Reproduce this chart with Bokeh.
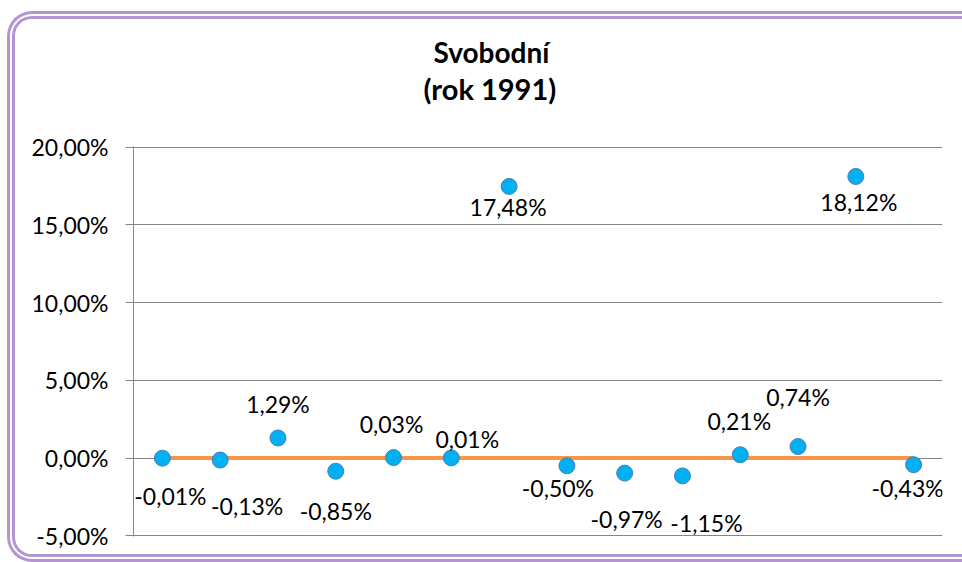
from bokeh.plotting import figure
from bokeh.models import (ColumnDataSource, Range1d, FixedTicker, CustomJSTickFormatter,
                          LabelSet, Title)
from bokeh.core.properties import value
from bokeh.embed import file_html
from bokeh.resources import INLINE

# ---- data ----
positions = list(range(1, 15))
values = [-0.01, -0.13, 1.29, -0.85, 0.03, 0.01, 17.48, -0.50, -0.97, -1.15, 0.21, 0.74, 18.12, -0.43]
zero_line = [0] * 14
y_ticks = [-5, 0, 5, 10, 15, 20]
title_lines = ["Svobodní", "(rok 1991)"]

# label placement (pixel offsets relative to each point; layout only)
label_dx = [8, 27, 0, 0, -2, 16, -1, -9, 2, 24, -1, 0, 3, -6]
label_dy = [38, 46, -34, 40, -34, -19, 21, 22, 46, 47, -34, -50, 26, 23]

labels = [f"{v:.2f}".replace(".", ",") + "%" for v in values]

src = ColumnDataSource(dict(x=positions, y=values, lab=labels,
                            dx=label_dx, dy=[-d for d in label_dy]))

FONT = "Lato"
BORDER = "8px double #B594D3"

p = figure(width=955, height=551, output_backend="svg", toolbar_location=None, title=None,
           x_range=Range1d(0.5, 14.5), y_range=Range1d(-5.05, 20.05),
           min_border_left=118, min_border_right=28, min_border_top=127, min_border_bottom=34)
p.styles = {"box-sizing": "border-box", "overflow": "hidden",
            "margin-left": "7px", "margin-top": "11px",
            "border-left": BORDER, "border-top": BORDER, "border-bottom": BORDER,
            "border-top-left-radius": "25px", "border-bottom-left-radius": "25px"}
p.outline_line_color = None
p.background_fill_color = "white"
p.border_fill_color = "white"

p.xaxis.visible = False
p.xgrid.grid_line_color = None
p.ygrid.grid_line_color = "#868686"
p.ygrid.grid_line_width = 1

ax = p.yaxis[0]
ax.ticker = FixedTicker(ticks=y_ticks)
ax.formatter = CustomJSTickFormatter(code="return tick.toFixed(2).replace('.', ',') + '%';")
ax.axis_line_color = "#868686"
ax.major_tick_line_color = "#868686"
ax.major_tick_out = 8
ax.major_tick_in = 0
ax.minor_tick_line_color = None
ax.major_label_standoff = 17
ax.major_label_text_font = FONT
ax.major_label_text_font_size = "23px"
ax.major_label_text_color = "black"

p.line(x=positions, y=zero_line, line_color="#F79646", line_width=4)
p.scatter(x="x", y="y", source=src, size=16, fill_color="#00B0F0",
          line_color="#4A7EBB", line_width=1)

p.add_layout(LabelSet(x="x", y="y", text="lab", x_offset="dx", y_offset="dy", source=src,
                      text_align="center", text_baseline="middle",
                      text_font=value(FONT), text_font_size="23px", text_color="black"))

# title: spacer nearest the frame, then the two lines stacked outward
p.add_layout(Title(text=" ", text_font_size="35px", standoff=0), "above")
p.add_layout(Title(text=title_lines[1], align="left", offset=290, standoff=0,
                   text_font=FONT, text_font_size="29px", text_font_style="bold",
                   text_color="black"), "above")
p.add_layout(Title(text=title_lines[0], align="left", offset=300, standoff=0,
                   text_font=FONT, text_font_size="28px", text_font_style="bold",
                   text_color="black"), "above")

open("out.html", "w").write(file_html(p, INLINE))
